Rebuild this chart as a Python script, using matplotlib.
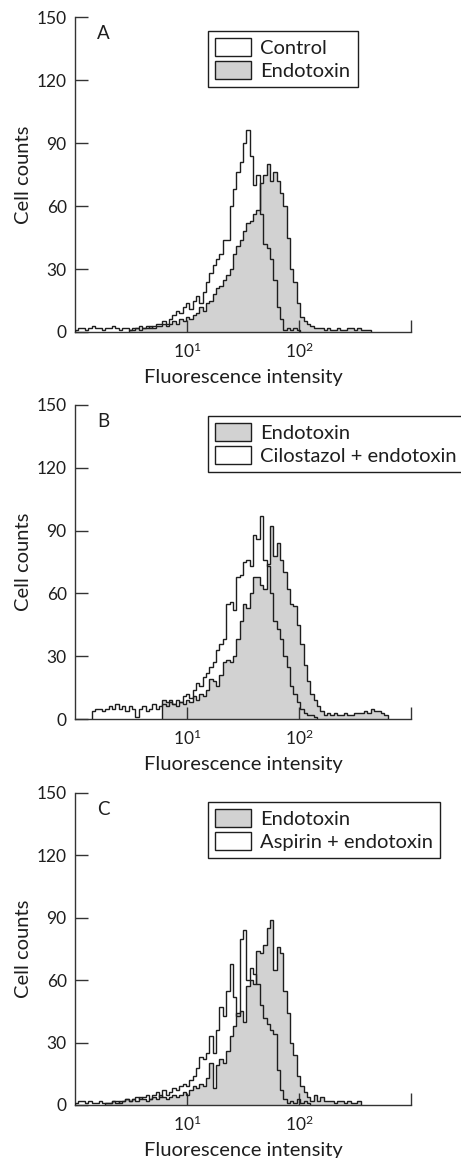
import numpy as np
import matplotlib
matplotlib.use("Agg")
import matplotlib.pyplot as plt
from matplotlib.patches import Patch

plt.rcParams['font.family'] = ['Lato', 'DejaVu Sans']
plt.rcParams['mathtext.fontset'] = 'custom'
plt.rcParams['mathtext.rm'] = 'Lato'
plt.rcParams['mathtext.it'] = 'Lato:italic'

# histogram bins: 100 channels, 0.03 decade each, 10^0 .. 10^3
n_bins = 100

# Panel A
control_A = [1, 2, 2, 1, 2, 3, 2, 2, 1, 2, 2, 3, 2, 1, 2, 2, 1, 2, 2, 3,
             2, 3, 2, 3, 4, 4, 5, 4, 6, 8, 10, 9, 12, 14, 11, 15, 17, 14, 19, 24,
             28, 32, 35, 37, 44, 44, 60, 68, 76, 81, 90, 96, 84, 70, 75, 56, 42, 40, 35, 25,
             12, 6, 1, 2, 1, 2, 1, 0, 0, 0, 0, 0, 0, 0, 0, 0, 0, 0, 0, 0,
             0, 0, 0, 0, 0, 0, 0, 0, 0, 0, 0, 0, 0, 0, 0, 0, 0, 0, 0, 0]
endo_A = [0, 0, 0, 0, 0, 0, 0, 0, 0, 0, 0, 0, 0, 0, 0, 0, 1, 1, 2, 1,
          2, 2, 3, 2, 3, 3, 4, 3, 4, 5, 4, 6, 5, 7, 6, 8, 9, 12, 10, 14,
          15, 18, 21, 22, 25, 27, 30, 37, 41, 44, 48, 52, 53, 56, 58, 71, 75, 80, 72, 76,
          72, 66, 60, 45, 30, 24, 14, 7, 5, 4, 3, 2, 2, 2, 1, 2, 1, 1, 2, 1,
          1, 2, 2, 1, 2, 1, 1, 1, 0, 0, 0, 0, 0, 0, 0, 0, 0, 0, 0, 0]

# Panel B
endo_B = [0, 0, 0, 0, 0, 0, 0, 0, 0, 0, 0, 0, 0, 0, 0, 0, 0, 0, 0, 0,
          0, 0, 0, 0, 0, 0, 9, 8, 9, 7, 6, 8, 7, 9, 8, 11, 9, 12, 11, 14,
          19, 18, 16, 21, 27, 28, 27, 30, 38, 47, 55, 53, 60, 68, 68, 64, 62, 74, 92, 78,
          84, 76, 70, 62, 55, 54, 45, 36, 26, 18, 12, 9, 6, 4, 2, 3, 2, 3, 2, 2,
          3, 2, 2, 3, 3, 3, 4, 3, 5, 4, 4, 3, 2, 0, 0, 0, 0, 0, 0, 0]
cilo_B = [0, 0, 0, 0, 0, 4, 5, 5, 4, 5, 6, 5, 7, 5, 6, 4, 6, 5, 1, 5,
          6, 4, 5, 7, 5, 6, 7, 6, 8, 7, 9, 8, 11, 12, 10, 14, 17, 16, 20, 22,
          25, 27, 33, 36, 38, 55, 56, 52, 68, 69, 75, 76, 73, 88, 86, 97, 76, 73, 60, 47,
          43, 38, 30, 25, 16, 12, 8, 5, 3, 2, 2, 1, 0, 0, 0, 0, 0, 0, 0, 0,
          0, 0, 0, 0, 0, 0, 0, 0, 0, 0, 0, 0, 0, 0, 0, 0, 0, 0, 0, 0]

# Panel C
endo_C = [0, 0, 0, 0, 0, 0, 0, 0, 0, 1, 1, 2, 1, 2, 2, 3, 2, 3, 2, 4,
          3, 2, 3, 4, 3, 5, 4, 3, 4, 5, 4, 5, 6, 5, 7, 9, 8, 10, 9, 13,
          20, 8, 19, 22, 20, 26, 33, 38, 44, 45, 40, 57, 60, 58, 74, 73, 77, 85, 89, 65,
          76, 73, 55, 44, 30, 24, 14, 9, 6, 4, 2, 5, 2, 4, 2, 2, 2, 1, 2, 2,
          1, 2, 1, 1, 2, 0, 0, 0, 0, 0, 0, 0, 0, 0, 0, 0, 0, 0, 0, 0]
aspi_C = [1, 2, 2, 1, 2, 1, 1, 2, 1, 1, 1, 2, 2, 1, 2, 3, 2, 3, 4, 3,
          4, 5, 3, 5, 6, 4, 7, 5, 6, 8, 7, 9, 10, 9, 12, 14, 18, 23, 22, 25,
          33, 25, 36, 47, 43, 55, 68, 52, 43, 80, 84, 60, 66, 63, 58, 48, 42, 39, 36, 34,
          17, 7, 3, 1, 2, 1, 3, 1, 2, 1, 0, 0, 0, 0, 0, 0, 0, 0, 0, 0,
          0, 0, 0, 0, 0, 0, 0, 0, 0, 0, 0, 0, 0, 0, 0, 0, 0, 0, 0, 0]

panels = [
    ("A", control_A, endo_A, ["Control", "Endotoxin"], False),
    ("B", cilo_B, endo_B, ["Endotoxin", "Cilostazol + endotoxin"], True),
    ("C", aspi_C, endo_C, ["Endotoxin", "Aspirin + endotoxin"], True),
]

edges = 10 ** np.linspace(0, 3, n_bins + 1)
gray = '#d2d2d2'
ink = '#1e1e1e'

fig = plt.figure(figsize=(4.61, 11.58), dpi=100)
boxes = [(0.1627, 0.7133, 0.7289, 0.2720),
         (0.1627, 0.3791, 0.7289, 0.2712),
         (0.1627, 0.0458, 0.7289, 0.2694)]
leg_y = [0.956, 0.965, 0.971]


def trimmed(vals):
    v = np.asarray(vals, dtype=float)
    nz = np.nonzero(v)[0]
    a, b = nz[0], nz[-1] + 1
    return v[a:b], edges[a:b + 1]


for (letter, white, filled, labels, endo_first), box, ly in zip(panels, boxes, leg_y):
    ax = fig.add_axes(box)
    v, e = trimmed(filled)
    ax.stairs(v, e, fill=True, color=gray, baseline=0, zorder=1)
    ax.stairs(v, e, color=ink, lw=1.0, baseline=0, zorder=2)
    v, e = trimmed(white)
    ax.stairs(v, e, color=ink, lw=1.0, baseline=0, zorder=3)

    ax.set_xscale('log')
    ax.set_xlim(1, 1000)
    ax.set_ylim(0, 150)
    ax.set_yticks([0, 30, 60, 90, 120, 150])
    ax.set_xticks([10, 100, 1000])
    ax.set_xticklabels([r'$10^{1}$', r'$10^{2}$', ''])
    ax.xaxis.set_minor_locator(matplotlib.ticker.NullLocator())
    ax.tick_params(axis='both', direction='in', length=9, width=1.0,
                   color='#333333', labelsize=12.5, labelcolor=ink)
    ax.tick_params(axis='x', pad=7)
    ax.tick_params(axis='y', pad=6)
    for s in ['top', 'right']:
        ax.spines[s].set_visible(False)
    for s in ['left', 'bottom']:
        ax.spines[s].set_color('#333333')
        ax.spines[s].set_linewidth(1.0)
    ax.set_xlabel('Fluorescence intensity', fontsize=14.5, color=ink, labelpad=6)
    ax.set_ylabel('Cell counts', fontsize=14.5, color=ink, labelpad=3)
    ax.text(0.065, 0.975, letter, transform=ax.transAxes, fontsize=13.5,
            color=ink, va='top', ha='left')

    h_white = Patch(facecolor='white', edgecolor=ink, lw=1.0)
    h_gray = Patch(facecolor=gray, edgecolor=ink, lw=1.0)
    handles = [h_gray, h_white] if endo_first else [h_white, h_gray]
    leg = ax.legend(handles, labels, loc='upper left', bbox_to_anchor=(0.396, ly),
                    fontsize=14.5, frameon=True, fancybox=False, framealpha=1,
                    edgecolor=ink, borderaxespad=0, borderpad=0.35,
                    handlelength=1.8, handleheight=1.0, handletextpad=0.45,
                    labelspacing=0.2)
    leg.get_frame().set_linewidth(1.0)
    for t in leg.get_texts():
        t.set_color(ink)
    leg.set_clip_on(False)

fig.savefig('out.png', dpi=100)
